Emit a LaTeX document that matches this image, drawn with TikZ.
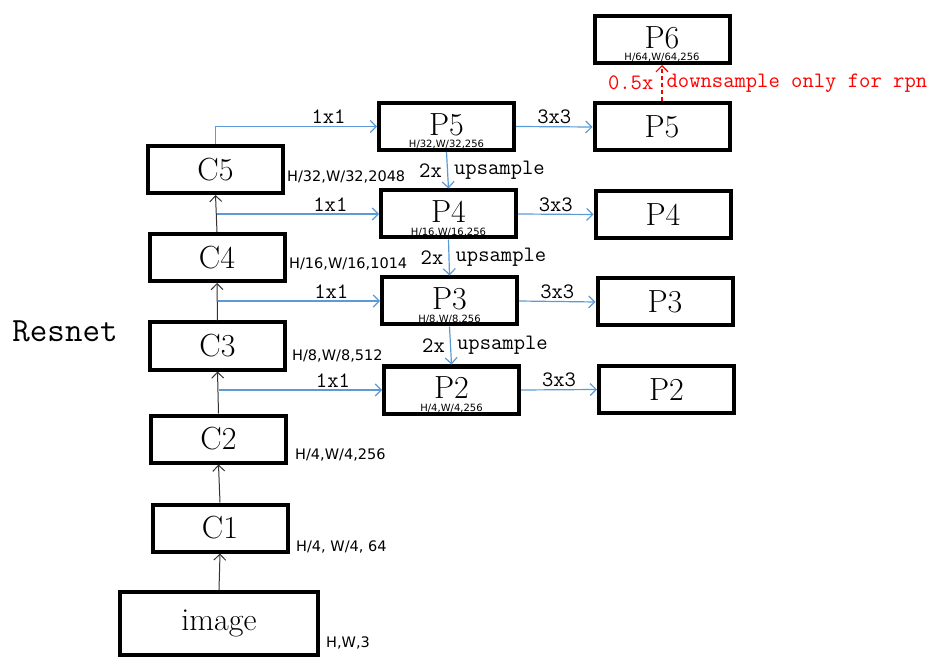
\documentclass[tikz,border=0pt]{standalone}
\usepackage{fontspec}
\newfontfamily\labfont{DejaVu Sans}
\usetikzlibrary{arrows.meta}
\definecolor{lblue}{RGB}{91,155,213}
\definecolor{rline}{RGB}{255,0,0}
\newcommand{\uplab}[1]{\raisebox{4pt}{#1}}
\begin{document}
\begin{tikzpicture}[x=1pt,y=-1pt,
  box/.style={draw=black, line width=4pt, minimum width=135pt, minimum height=47pt, inner sep=0pt, font=\fontsize{32}{36}\selectfont},
  sub/.style={font=\labfont\fontsize{10}{11}\selectfont, inner sep=0pt, anchor=south},
  side/.style={font=\labfont\fontsize{14.5}{16}\selectfont, inner sep=0pt, anchor=west},
  mono/.style={font=\ttfamily\fontsize{22}{24}\selectfont, inner sep=2pt},
  tip/.style={-{Straight Barb[length=6pt,width=12pt]}},
  blk/.style={draw=black!80, line width=1pt, tip},
  blu/.style={draw=lblue, line width=1.2pt, tip},
  rdash/.style={draw=rline, line width=1.2pt, dash pattern=on 4pt off 3pt, tip}]
\useasboundingbox (0,0) rectangle (938,671);

% backbone
\node[box, minimum width=198pt, minimum height=63pt] (img) at (219,623.5) {image};
\node[box] (C1) at (220,528) {C1};
\node[box] (C2) at (218.5,439) {C2};
\node[box] (C3) at (217.5,346) {C3};
\node[box] (C4) at (217,257.5) {C4};
\node[box] (C5) at (215.5,169.5) {C5};

\node[side] (simg) at (326,643) {H,W,3};
\node[side] (sC1) at (296,547) {H/4, W/4, 64};
\node[side] (sC2) at (295,455) {H/4,W/4,256};
\node[side] (sC3) at (292,356) {H/8,W/8,512};
\node[side] (sC4) at (289,264) {H/16,W/16,1014};
\node[side] (sC5) at (287,177) {H/32,W/32,2048};

\node[font=\ttfamily\fontsize{34}{38}\selectfont, inner sep=0pt] (resnet) at (65,331) {Resnet};

% left P boxes
\node[box] (P5L) at (446.5,126.5) {\uplab{P5}};
\node[box] (P4L) at (448.5,214) {\uplab{P4}};
\node[box] (P3L) at (449.5,301) {\uplab{P3}};
\node[box] (P2L) at (451.5,390) {\uplab{P2}};
\node[sub] (sP5) at ([yshift=3pt]P5L.south) {H/32,W/32,256};
\node[sub] (sP4) at ([yshift=3pt]P4L.south) {H/16,W/16,256};
\node[sub] (sP3) at ([yshift=3pt]P3L.south) {H/8,W/8,256};
\node[sub] (sP2) at ([yshift=3pt]P2L.south) {H/4,W/4,256};

% right P boxes
\node[box] (P6) at (662,39.5) {\uplab{P6}};
\node[sub] (sP6) at ([yshift=3pt]P6.south) {H/64,W/64,256};
\node[box] (P5R) at (662,127) {P5};
\node[box] (P4R) at (663,214.5) {P4};
\node[box] (P3R) at (665,302) {P3};
\node[box] (P2R) at (666.5,389.5) {P2};

% backbone arrows
\draw[blk] (img.north) -- (C1.south);
\draw[blk] (C1.north) -- (C2.south);
\draw[blk] (C2.north) -- (C3.south);
\draw[blk] (C3.north) -- (C4.south);
\draw[blk] (C4.north) -- (C5.south);

% lateral 1x1
\draw[blu] (C5.north) -- (C5.north |- P5L.west) -- node[mono, above, pos=0.7] {1x1} (P5L.west);
\draw[blu] (C4.north |- P4L.west) -- node[mono, above, pos=0.7] {1x1} (P4L.west);
\draw[blu] (C3.north |- P3L.west) -- node[mono, above, pos=0.7] {1x1} (P3L.west);
\draw[blu] (C2.north |- P2L.west) -- node[mono, above, pos=0.7] {1x1} (P2L.west);

% 3x3
\draw[blu] (P5L.east) -- node[mono, above] {3x3} (P5R.west);
\draw[blu] (P4L.east) -- node[mono, above] {3x3} (P4R.west);
\draw[blu] (P3L.east) -- node[mono, above] {3x3} (P3R.west);
\draw[blu] (P2L.east) -- node[mono, above] {3x3} (P2R.west);

% upsample
\draw[blu] (P5L.south) -- node[mono, anchor=east, inner sep=0pt, xshift=-5pt] {2x} node[mono, anchor=west, inner sep=0pt, xshift=6pt] {upsample} (P4L.north);
\draw[blu] (P4L.south) -- node[mono, anchor=east, inner sep=0pt, xshift=-5pt] {2x} node[mono, anchor=west, inner sep=0pt, xshift=6pt] {upsample} (P3L.north);
\draw[blu] (P3L.south) -- node[mono, anchor=east, inner sep=0pt, xshift=-5pt] {2x} node[mono, anchor=west, inner sep=0pt, xshift=6pt] {upsample} (P2L.north);

% downsample
\draw[rdash] (P5R.north) -- node[mono, text=rline, anchor=east, inner sep=0pt, xshift=-8pt] {0.5x} node[mono, text=rline, anchor=west, inner sep=0pt, xshift=4pt] {downsample only for rpn} (P6.south);
\end{tikzpicture}
\end{document}
